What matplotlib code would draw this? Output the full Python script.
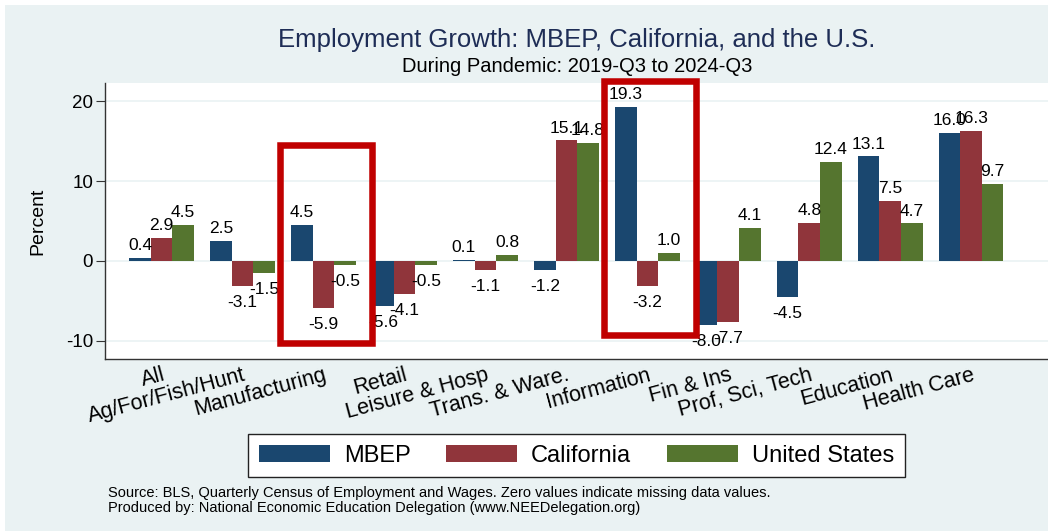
# %% Imports:
import numpy as np
import matplotlib
matplotlib.use("Agg")
import matplotlib.pyplot as plt
import matplotlib.patches as patches

plt.rcParams['font.family'] = ['Liberation Sans', 'DejaVu Sans']
plt.rcParams['axes.unicode_minus'] = False

# %% Data
categories = ["All", "Ag/For/Fish/Hunt", "Manufacturing", "Retail", "Leisure & Hosp",
              "Trans. & Ware.", "Information", "Fin & Ins", "Prof, Sci, Tech",
              "Education", "Health Care"]
mbep = [0.4, 2.5, 4.5, -5.6, 0.1, -1.2, 19.3, -8.0, -4.5, 13.1, 16.0]
california = [2.9, -3.1, -5.9, -4.1, -1.1, 15.1, -3.2, -7.7, 4.8, 7.5, 16.3]
united_states = [4.5, -1.5, -0.5, -0.5, 0.8, 14.8, 1.0, 4.1, 12.4, 4.7, 9.7]
series_names = ["MBEP", "California", "United States"]
# highlighted groups with the vertical extent of the red box (percent units)
highlighted = {"Manufacturing": (-10.3, 14.5), "Information": (-9.25, 22.5)}

# Stata s2color palette
colors = ["#1a476f", "#90353b", "#55752f"]
bg = "#eaf2f3"

# %% Figure
fig = plt.figure(figsize=(10.48, 5.31), dpi=100)
fig.patch.set_facecolor("white")
fig.patches.append(patches.Rectangle((5 / 1048, 0), 1, 526 / 531, transform=fig.transFigure,
                                     facecolor=bg, edgecolor="none", zorder=-10))

ax = fig.add_axes([105 / 1048, 172 / 531, 943 / 1048, 276 / 531])
ax.set_facecolor("white")

x = np.arange(len(categories))
w = 0.8 / 3
for j, (vals, name, col) in enumerate(zip([mbep, california, united_states], series_names, colors)):
    pos = x + (j - 1) * w
    ax.bar(pos, vals, w, color=col, label=name, zorder=2)
    for xi, v in zip(pos, vals):
        if v >= 0:
            ax.annotate(f"{v:.1f}", (xi, v), xytext=(0, 3.5), textcoords="offset points",
                        ha="center", va="bottom", fontsize=12.5, zorder=4)
        else:
            ax.annotate(f"{v:.1f}", (xi, v), xytext=(0, -6.5), textcoords="offset points",
                        ha="center", va="top", fontsize=12.5, zorder=4)

# red highlight boxes around selected groups
for cat, (y0, y1) in highlighted.items():
    i = categories.index(cat)
    rect = patches.Rectangle((i - 0.54, y0), 1.14, y1 - y0, fill=False,
                             edgecolor="#c00000", linewidth=4.7, zorder=5, clip_on=False)
    ax.add_patch(rect)

ax.set_xlim(-0.70, 10.95)
ax.set_ylim(-12.3, 22.3)
ax.set_yticks([-10, 0, 10, 20])
ax.tick_params(axis="y", labelsize=13.5, length=6.5, width=0.8, color="#333333", pad=2)
ax.set_xticks(x)
ax.set_xticklabels(categories, rotation=15, ha="right", va="top", rotation_mode="anchor",
                   fontsize=15.5)
ax.tick_params(axis="x", length=0, pad=4)
ax.grid(axis="y", color=bg, linewidth=1.2, zorder=0)
ax.set_axisbelow(True)
for s in ["top", "right"]:
    ax.spines[s].set_visible(False)
for s in ["left", "bottom"]:
    ax.spines[s].set_color("#333333")
    ax.spines[s].set_linewidth(1)

# Titles and labels
fig.text(577 / 1048, 1 - 40 / 531, "Employment Growth: MBEP, California, and the U.S.",
         ha="center", va="center", fontsize=18.5, color="#1e2d56")
fig.text(577 / 1048, 1 - 67 / 531, "During Pandemic: 2019-Q3 to 2024-Q3",
         ha="center", va="center", fontsize=14.5)
fig.text(38 / 1048, 1 - 221 / 531, "Percent", rotation=90, ha="center", va="center", fontsize=14)

# Legend
leg = ax.legend(loc="center", bbox_to_anchor=(0.5, -0.35), ncol=3, fontsize=17,
                handlelength=3.0, handleheight=0.72, handletextpad=0.6, columnspacing=1.5,
                borderpad=0.45, fancybox=False, framealpha=1)
leg.get_frame().set_edgecolor("#222222")
leg.get_frame().set_linewidth(1)

# Source notes
fig.text(108 / 1048, 1 - 493 / 531,
         "Source: BLS, Quarterly Census of Employment and Wages. Zero values indicate missing data values.",
         ha="left", va="center", fontsize=10.5)
fig.text(108 / 1048, 1 - 508 / 531,
         "Produced by: National Economic Education Delegation (www.NEEDelegation.org)",
         ha="left", va="center", fontsize=10.5)

plt.savefig("out.png", dpi=100)
